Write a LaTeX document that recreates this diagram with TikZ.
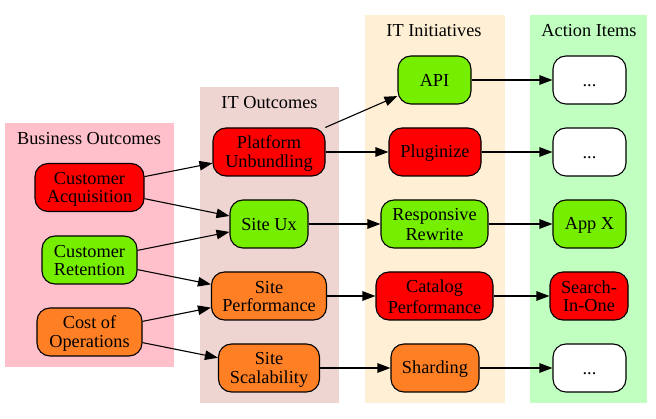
\documentclass[tikz,border=0pt]{standalone}
\usepackage{fontspec}
\setmainfont{Liberation Serif}
\usetikzlibrary{arrows.meta}
\definecolor{cbus}{HTML}{FFC0CB}
\definecolor{citout}{HTML}{EED5D2}
\definecolor{citini}{HTML}{FFEFD5}
\definecolor{cact}{HTML}{C1FFC1}
\definecolor{nred}{HTML}{FF0000}
\definecolor{ngreen}{HTML}{76EE00}
\definecolor{norange}{HTML}{FF7F24}
\newcommand\lnst{\rule[-2.5pt]{0pt}{18.3pt}}
\tikzset{
  cluster/.style={fill=#1, draw=none},
  clabel/.style={font=\fontsize{18.3}{18.3}\selectfont, inner sep=0pt},
  box/.style={draw=black, line width=1.1pt, rounded corners=13pt, fill=#1,
    minimum height=48pt, inner sep=0pt, align=center,
    font=\fontsize{18.3}{18.3}\selectfont},
  edge/.style={draw=black, line width=1.1pt, -{Triangle[length=13pt,width=9.5pt]}}
}
\begin{document}
\begin{tikzpicture}[x=1pt,y=-1pt]
\useasboundingbox (0,0) rectangle (656,419);
% clusters
\path[cluster=cbus] (5,123) rectangle (174,367);
\path[cluster=citout] (200,87) rectangle (339,403);
\path[cluster=citini] (365,15) rectangle (505,403);
\path[cluster=cact] (530,15) rectangle (647,403);
\node[clabel] (lbus) at (89,139) {Business Outcomes};
\node[clabel] (litout) at (269.5,103) {IT Outcomes};
\node[clabel] (litini) at (434,31) {IT Initiatives};
\node[clabel] (lact) at (589,31) {Action Items};
% business outcomes
\node[box=nred, minimum width=109pt] (ca) at (89.5,187.5) {\lnst Customer\\\lnst Acquisition};
\node[box=ngreen, minimum width=95pt] (cr) at (89.5,260) {\lnst Customer\\\lnst Retention};
\node[box=norange, minimum width=105pt] (co) at (89.5,332) {\lnst Cost of\\\lnst Operations};
% IT outcomes
\node[box=nred, minimum width=112pt] (pu) at (269,152) {\lnst Platform\\\lnst Unbundling};
\node[box=ngreen, minimum width=78pt] (su) at (269,224) {\lnst Site Ux};
\node[box=norange, minimum width=115pt] (sp) at (269,296) {\lnst Site\\\lnst Performance};
\node[box=norange, minimum width=101pt] (ss) at (269,368) {\lnst Site\\\lnst Scalability};
% IT initiatives
\node[box=ngreen, minimum width=73pt] (api) at (434.5,80) {\lnst API};
\node[box=nred, minimum width=92pt] (plg) at (435,152) {\lnst Pluginize};
\node[box=ngreen, minimum width=107pt] (rr) at (434.5,224) {\lnst Responsive\\\lnst Rewrite};
\node[box=nred, minimum width=117pt] (cp) at (434.5,296) {\lnst Catalog\\\lnst Performance};
\node[box=norange, minimum width=88pt] (sh) at (435,368) {\lnst Sharding};
% action items
\node[box=white, minimum width=73pt] (a1) at (589.5,80) {\lnst ...};
\node[box=white, minimum width=73pt] (a2) at (589.5,152) {\lnst ...};
\node[box=ngreen, minimum width=73pt] (ax) at (589.5,224) {\lnst App X};
\node[box=nred, minimum width=78pt] (sio) at (589,296) {\lnst Search-\\\lnst In-One};
\node[box=white, minimum width=73pt] (a3) at (589.5,368) {\lnst ...};
% edges
\draw[edge] (ca) -- (pu);
\draw[edge] (ca) -- (su);
\draw[edge] (cr) -- (su);
\draw[edge] (cr) -- (sp);
\draw[edge] (co) -- (sp);
\draw[edge] (co) -- (ss);
\draw[edge] (pu) -- (api);
\draw[edge] (pu) -- (plg);
\draw[edge] (su) -- (rr);
\draw[edge] (sp) -- (cp);
\draw[edge] (ss) -- (sh);
\draw[edge] (api) -- (a1);
\draw[edge] (plg) -- (a2);
\draw[edge] (rr) -- (ax);
\draw[edge] (cp) -- (sio);
\draw[edge] (sh) -- (a3);
\end{tikzpicture}
\end{document}
